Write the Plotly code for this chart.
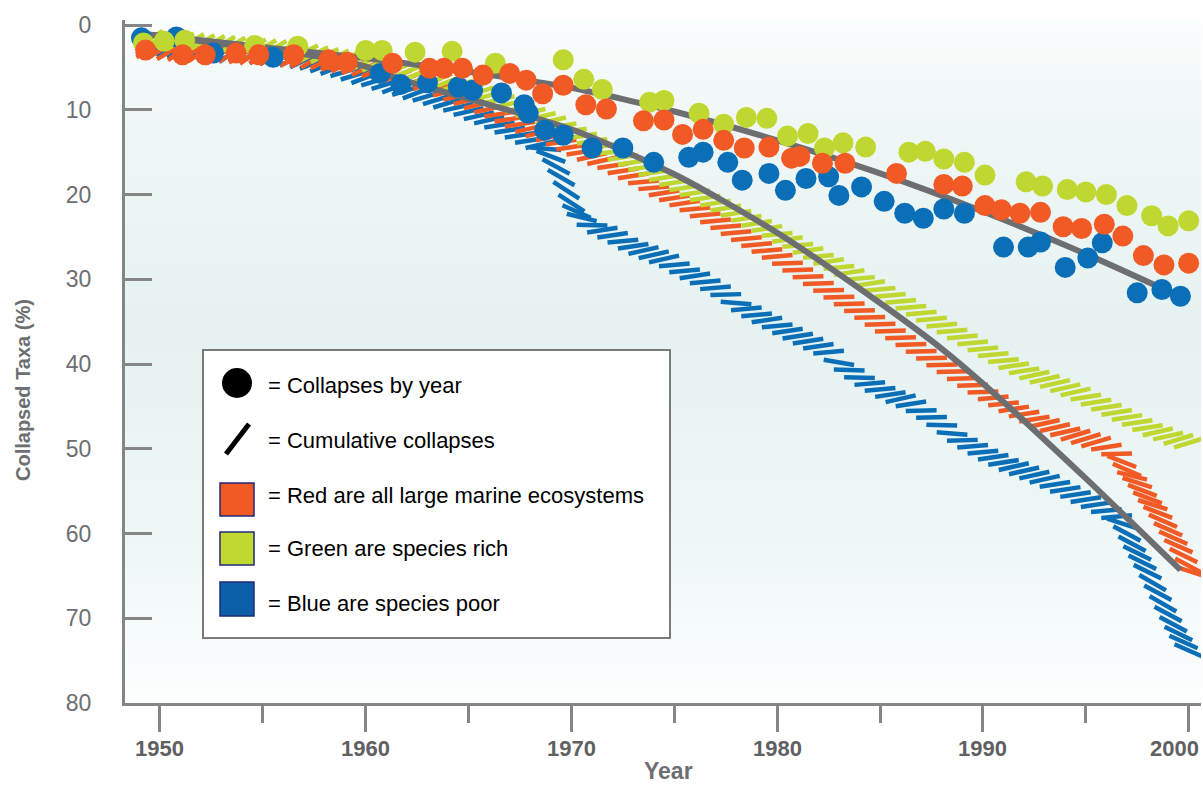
import plotly.graph_objects as go

# ---------------- DATA ----------------
# Collapses by year (dots)
green_years = [1949.2, 1950.2, 1951.2, 1954.6, 1956.7, 1960.0, 1960.8, 1962.4, 1964.2, 1966.3,
               1969.6, 1970.6, 1971.5, 1973.8, 1974.5, 1976.2, 1977.4, 1978.5, 1979.5, 1980.5,
               1981.5, 1982.3, 1983.2, 1984.3, 1986.4, 1987.2, 1988.1, 1989.1, 1990.1, 1992.1,
               1992.9, 1994.1, 1995.0, 1996.0, 1997.0, 1998.2, 1999.0, 2000.0]
green_vals = [2.1, 1.9, 1.8, 2.4, 2.5, 3.0, 3.0, 3.2, 3.1, 4.5,
              4.1, 6.4, 7.6, 9.1, 8.9, 10.4, 11.7, 10.9, 11.0, 13.1,
              12.8, 14.5, 13.9, 14.4, 15.0, 14.9, 15.8, 16.2, 17.7, 18.5,
              19.0, 19.4, 19.7, 20.0, 21.3, 22.5, 23.7, 23.1]

red_years = [1949.3, 1951.1, 1952.2, 1953.7, 1954.8, 1956.5, 1958.2, 1959.1, 1961.3, 1963.1,
             1963.8, 1964.7, 1965.7, 1967.0, 1967.8, 1968.6, 1969.6, 1970.7, 1971.7, 1973.5,
             1974.5, 1975.4, 1976.4, 1977.4, 1978.4, 1979.6, 1980.7, 1981.1, 1982.2, 1983.3,
             1985.8, 1988.1, 1989.0, 1990.1, 1990.9, 1991.8, 1992.8, 1993.9, 1994.8, 1995.9,
             1996.8, 1997.8, 1998.8, 2000.0]
red_vals = [2.95, 3.5, 3.5, 3.3, 3.5, 3.5, 4.1, 4.4, 4.5, 5.1,
            5.1, 5.1, 5.9, 5.7, 6.5, 8.1, 7.1, 9.4, 9.9, 11.3,
            11.2, 12.9, 12.3, 13.6, 14.5, 14.4, 15.7, 15.5, 16.3, 16.3,
            17.5, 18.8, 19.0, 21.3, 21.8, 22.2, 22.1, 23.8, 24.0, 23.5,
            24.9, 27.2, 28.3, 28.1]

blue_years = [1949.1, 1950.8, 1952.6, 1955.5, 1960.7, 1961.7, 1963.0, 1964.5, 1965.2, 1966.6,
              1967.7, 1967.9, 1968.7, 1969.6, 1971.0, 1972.5, 1974.0, 1975.7, 1976.4, 1977.6,
              1978.3, 1979.6, 1980.4, 1981.4, 1982.5, 1983.0, 1984.1, 1985.2, 1986.2, 1987.1,
              1988.1, 1989.1, 1991.0, 1992.2, 1992.8, 1994.0, 1995.1, 1995.8, 1997.5, 1998.7,
              1999.6]
blue_vals = [1.5, 1.4, 3.3, 3.8, 5.7, 7.0, 6.8, 7.3, 7.7, 8.0,
             9.4, 10.4, 12.4, 13.0, 14.5, 14.5, 16.2, 15.6, 15.0, 16.2,
             18.3, 17.5, 19.5, 18.1, 17.9, 20.1, 19.1, 20.8, 22.2, 22.8,
             21.7, 22.2, 26.2, 26.2, 25.6, 28.6, 27.5, 25.7, 31.6, 31.2,
             32.0]

# Trend of collapses by year (upper gray line)
trend_years = [1949, 1955, 1960, 1965, 1970, 1975, 1980, 1985, 1990, 1995, 2000]
trend_vals = [1.0, 2.6, 3.9, 5.5, 7.4, 10.2, 13.6, 17.5, 22.0, 27.0, 32.5]

# Cumulative collapses, all taxa (lower gray line)
cum_years = [1949, 1955, 1958, 1960, 1962, 1965, 1970, 1975, 1980, 1985, 1988, 1990, 1995, 1999.6]
cum_vals = [1.0, 2.8, 3.8, 4.9, 6.6, 8.7, 12.3, 17.6, 24.5, 32.8, 38.2, 42.3, 53.5, 64.3]

# Cumulative collapses per group (hatched bands)
green_cum_years = [1949.0, 1949.5, 1950.0, 1950.5, 1951.0, 1951.5, 1952.0, 1952.5, 1953.0, 1953.5,
                   1954.0, 1954.5, 1955.0, 1955.5, 1956.0, 1956.5, 1957.0, 1957.5, 1958.0, 1958.5,
                   1959.0, 1959.5, 1960.0, 1960.5, 1961.0, 1961.5, 1962.0, 1962.5, 1963.0, 1963.5,
                   1964.0, 1964.5, 1965.0, 1965.5, 1966.0, 1966.5, 1967.0, 1967.5, 1968.0, 1968.5,
                   1969.0, 1969.5, 1970.0, 1970.5, 1971.0, 1971.5, 1972.0, 1972.5, 1973.0, 1973.5,
                   1974.0, 1974.5, 1975.0, 1975.5, 1976.0, 1976.5, 1977.0, 1977.5, 1978.0, 1978.5,
                   1979.0, 1979.5, 1980.0, 1980.5, 1981.0, 1981.5, 1982.0, 1982.5, 1983.0, 1983.5,
                   1984.0, 1984.5, 1985.0, 1985.5, 1986.0, 1986.5, 1987.0, 1987.5, 1988.0, 1988.5,
                   1989.0, 1989.5, 1990.0, 1990.5, 1991.0, 1991.5, 1992.0, 1992.5, 1993.0, 1993.5,
                   1994.0, 1994.5, 1995.0, 1995.5, 1996.0, 1996.5, 1997.0, 1997.5, 1998.0, 1998.5,
                   1999.0, 1999.5, 2000.0]
green_cum = [1.5, 1.6, 1.7, 1.8, 1.9, 2.0, 2.1, 2.2, 2.3, 2.4,
             2.5, 2.6, 2.7, 2.8, 2.9, 3.0, 3.2, 3.4, 3.6, 3.8,
             4.0, 4.2, 4.4, 4.6, 4.9, 5.2, 5.5, 5.8, 6.1, 6.4,
             6.7, 7.1, 7.5, 7.9, 8.3, 8.8, 9.3, 9.8, 10.3, 10.8,
             11.3, 11.9, 12.5, 13.1, 13.7, 14.3, 15.0, 15.6, 16.2, 16.8,
             17.4, 18.0, 18.6, 19.2, 19.8, 20.4, 21.0, 21.6, 22.2, 22.8,
             23.4, 24.0, 24.7, 25.3, 26.0, 26.6, 27.3, 27.9, 28.6, 29.2,
             29.9, 30.5, 31.2, 31.9, 32.6, 33.3, 34.0, 34.7, 35.4, 36.1,
             36.8, 37.5, 38.2, 38.9, 39.6, 40.2, 40.8, 41.3, 41.8, 42.3,
             42.8, 43.3, 43.9, 44.5, 45.1, 45.7, 46.3, 46.9, 47.5, 48.0,
             48.5, 48.9, 49.3]

red_cum_years = [1949.0, 1949.5, 1950.0, 1950.5, 1951.0, 1951.5, 1952.0, 1952.5, 1953.0, 1953.5,
                 1954.0, 1954.5, 1955.0, 1955.5, 1956.0, 1956.5, 1957.0, 1957.5, 1958.0, 1958.5,
                 1959.0, 1959.5, 1960.0, 1960.5, 1961.0, 1961.5, 1962.0, 1962.5, 1963.0, 1963.5,
                 1964.0, 1964.5, 1965.0, 1965.5, 1966.0, 1966.5, 1967.0, 1967.5, 1968.0, 1968.5,
                 1969.0, 1969.5, 1970.0, 1970.5, 1971.0, 1971.5, 1972.0, 1972.5, 1973.0, 1973.5,
                 1974.0, 1974.5, 1975.0, 1975.5, 1976.0, 1976.5, 1977.0, 1977.5, 1978.0, 1978.5,
                 1979.0, 1979.5, 1980.0, 1980.5, 1981.0, 1981.5, 1982.0, 1982.5, 1983.0, 1983.5,
                 1984.0, 1984.5, 1985.0, 1985.5, 1986.0, 1986.5, 1987.0, 1987.5, 1988.0, 1988.5,
                 1989.0, 1989.5, 1990.0, 1990.5, 1991.0, 1991.5, 1992.0, 1992.5, 1993.0, 1993.5,
                 1994.0, 1994.5, 1995.0, 1995.5, 1996.0, 1996.5, 1996.75, 1997.0, 1997.25, 1997.5,
                 1997.75, 1998.0, 1998.25, 1998.5, 1998.75, 1999.0, 1999.25, 1999.5, 1999.75, 2000.0,
                 2000.25]
red_cum = [2.8, 2.9, 3.0, 3.1, 3.1, 3.2, 3.2, 3.3, 3.3, 3.4,
           3.5, 3.5, 3.6, 3.7, 3.8, 3.9, 4.0, 4.1, 4.3, 4.5,
           4.7, 4.9, 5.1, 5.4, 5.7, 6.0, 6.3, 6.6, 6.9, 7.4,
           7.9, 8.4, 8.9, 9.4, 9.9, 10.5, 11.1, 11.7, 12.2, 12.7,
           13.2, 13.8, 14.4, 15.0, 15.5, 16.0, 16.6, 17.2, 17.8, 18.5,
           19.2, 19.8, 20.4, 21.0, 21.7, 22.4, 23.1, 23.8, 24.5, 25.2,
           25.9, 26.6, 27.3, 28.1, 28.9, 29.7, 30.5, 31.3, 32.1, 32.9,
           33.7, 34.5, 35.3, 36.1, 36.9, 37.7, 38.5, 39.3, 40.1, 40.9,
           41.7, 42.5, 43.3, 44.0, 44.7, 45.3, 45.9, 46.5, 47.0, 47.5,
           48.0, 48.4, 48.8, 49.2, 49.8, 50.6, 51.5, 52.5, 53.2, 54.0,
           54.9, 55.8, 56.6, 57.5, 58.5, 59.5, 60.5, 61.5, 62.6, 63.8,
           64.6]

blue_cum_years = [1949.0, 1949.5, 1950.0, 1950.5, 1951.0, 1951.5, 1952.0, 1952.5, 1953.0, 1953.5,
                  1954.0, 1954.5, 1955.0, 1955.5, 1956.0, 1956.5, 1957.0, 1957.5, 1958.0, 1958.5,
                  1959.0, 1959.5, 1960.0, 1960.5, 1961.0, 1961.5, 1962.0, 1962.5, 1963.0, 1963.5,
                  1964.0, 1964.5, 1965.0, 1965.5, 1966.0, 1966.5, 1967.0, 1967.5, 1968.0, 1968.5,
                  1968.75, 1969.0, 1969.25, 1969.5, 1969.75, 1970.0, 1970.25, 1970.5,
                  1971.0, 1971.5, 1972.0, 1972.5, 1973.0, 1973.5,
                  1974.0, 1974.5, 1975.0, 1975.5, 1976.0, 1976.5, 1977.0, 1977.5, 1978.0, 1978.5,
                  1979.0, 1979.5, 1980.0, 1980.5, 1981.0, 1981.5, 1982.0, 1982.5, 1983.0, 1983.5,
                  1984.0, 1984.5, 1985.0, 1985.5, 1986.0, 1986.5, 1987.0, 1987.5, 1988.0, 1988.5,
                  1989.0, 1989.5, 1990.0, 1990.5, 1991.0, 1991.5, 1992.0, 1992.5, 1993.0, 1993.5,
                  1994.0, 1994.5, 1995.0, 1995.5, 1996.0, 1996.5, 1996.75, 1997.0, 1997.25, 1997.5,
                  1997.75, 1998.0, 1998.25, 1998.5, 1998.75, 1999.0, 1999.25, 1999.5, 1999.75, 2000.0]
blue_cum = [2.5, 2.6, 2.7, 2.8, 2.9, 3.0, 3.1, 3.2, 3.3, 3.3,
            3.4, 3.5, 3.6, 3.7, 3.8, 4.0, 4.2, 4.5, 4.8, 5.1,
            5.5, 5.9, 6.2, 6.6, 7.0, 7.3, 7.7, 8.0, 8.4, 8.8,
            9.2, 9.7, 10.2, 10.7, 11.2, 11.8, 12.4, 13.0, 13.6, 14.1,
            14.6, 15.5, 16.7, 18.0, 19.5, 21.0, 22.0, 22.7,
            23.6, 24.2, 24.8, 25.5, 26.1, 26.6,
            27.1, 27.6, 28.3, 29.0, 29.6, 30.3, 31.0, 31.8, 32.8, 33.5,
            34.2, 34.8, 35.5, 36.1, 36.7, 37.3, 37.9, 38.6, 39.8, 40.7,
            41.6, 42.3, 43.0, 43.6, 44.1, 44.7, 45.5, 46.3, 47.2, 48.2,
            49.0, 49.7, 50.4, 51.0, 51.6, 52.1, 52.6, 53.1, 53.6, 54.2,
            54.8, 55.4, 56.0, 56.6, 57.3, 58.0, 58.8, 60.0, 61.2, 62.3,
            63.4, 64.5, 65.8, 67.0, 68.3, 69.5, 70.7, 71.8, 72.8, 73.8]

y_ticks = [0, 10, 20, 30, 40, 50, 60, 70, 80]
x_ticks = [1950, 1960, 1970, 1980, 1990, 2000]
x_minor_ticks = [1955, 1965, 1975, 1985, 1995]

legend_labels = ["= Collapses by year", "= Cumulative collapses",
                 "= Red are all large marine ecosystems", "= Green are species rich",
                 "= Blue are species poor"]

# ---------------- STYLE ----------------
ORANGE = "#f15a24"
GREEN = "#bfd730"
BLUE = "#0a6fb6"
GRAY = "#6d6e71"
AXIS = "#858585"

W, H = 1203, 785
ML, MR, MT, MB = 125, 2, 20, 82
PW, PH = W - ML - MR, H - MT - MB


def fx(px):
    return (px - ML) / PW


def fy(py):
    return (H - MB - py) / PH


fig = go.Figure()


def hatch(xs, ys, color):
    fig.add_trace(go.Scatter(
        x=xs, y=ys, mode="markers", hoverinfo="skip", showlegend=False,
        marker=dict(symbol="line-ew", size=22, angle=55, angleref="previous",
                    color=color, line=dict(color=color, width=4.5))))


hatch(blue_cum_years, blue_cum, BLUE)
hatch(red_cum_years, red_cum, ORANGE)
hatch(green_cum_years, green_cum, GREEN)

fig.add_trace(go.Scatter(x=cum_years, y=cum_vals, mode="lines", showlegend=False,
                         line=dict(color=GRAY, width=6, shape="spline", smoothing=0.7)))
fig.add_trace(go.Scatter(x=trend_years, y=trend_vals, mode="lines", showlegend=False,
                         line=dict(color=GRAY, width=6, shape="spline", smoothing=0.6)))

for xs, ys, c in [(blue_years, blue_vals, BLUE), (green_years, green_vals, GREEN),
                  (red_years, red_vals, ORANGE)]:
    fig.add_trace(go.Scatter(x=xs, y=ys, mode="markers", showlegend=False,
                             marker=dict(size=21, color=c, line=dict(width=0))))

# background gradient (plot area)
stops = [(0.0, (250, 253, 253)), (0.15, (239, 247, 246)), (0.45, (229, 242, 241)),
         (0.75, (238, 247, 246)), (1.0, (252, 254, 254))]
shapes = []
N = 60
for i in range(N):
    t = (i + 0.5) / N
    for j in range(len(stops) - 1):
        if stops[j][0] <= t <= stops[j + 1][0]:
            a = (t - stops[j][0]) / (stops[j + 1][0] - stops[j][0])
            c = tuple(round(stops[j][1][k] + a * (stops[j + 1][1][k] - stops[j][1][k])) for k in range(3))
            break
    shapes.append(dict(type="rect", xref="paper", yref="paper", x0=0, x1=1,
                       y0=1 - (i + 1) / N, y1=1 - i / N + 0.001, layer="below",
                       line=dict(width=0), fillcolor="rgb(%d,%d,%d)" % c))

# legend box
shapes.append(dict(type="rect", xref="paper", yref="paper", x0=fx(203), x1=fx(670),
                   y0=fy(638), y1=fy(350), fillcolor="white", line=dict(color="#7a7a7a", width=2),
                   layer="above"))
shapes.append(dict(type="circle", xref="paper", yref="paper", x0=fx(222), x1=fx(252),
                   y0=fy(398), y1=fy(368), fillcolor="black", line=dict(width=0), layer="above"))
shapes.append(dict(type="line", xref="paper", yref="paper", x0=fx(226), x1=fx(249),
                   y0=fy(454), y1=fy(424), line=dict(color="black", width=5), layer="above"))
for (y0, y1, c) in [(483, 516, ORANGE), (532, 565, "#c0d82f"), (582, 616, "#0b5fa8")]:
    shapes.append(dict(type="rect", xref="paper", yref="paper", x0=fx(220), x1=fx(254),
                       y0=fy(y1), y1=fy(y0), fillcolor=c, line=dict(color="#1f2a7a", width=1.5),
                       layer="above"))

annotations = []
for lab, yc in zip(legend_labels, [385, 440, 495, 548, 603]):
    annotations.append(dict(xref="paper", yref="paper", x=fx(266), y=fy(yc), text=lab,
                            showarrow=False, xanchor="left", yanchor="middle",
                            font=dict(family="Liberation Sans, Arial", size=22, color="black")))

# x tick labels (placed at the axis' own positions; last one kept inside the page)
for v in x_ticks:
    last = v == x_ticks[-1]
    annotations.append(dict(xref="x", yref="paper", x=2000.6 if last else v, y=fy(748),
                            text="<b>%d</b>" % v, showarrow=False,
                            xanchor="right" if last else "center", yanchor="middle",
                            font=dict(family="Liberation Sans Narrow, Arial Narrow, Liberation Sans",
                                      size=22, color="#5f6062")))

annotations.append(dict(xref="paper", yref="paper", x=fx(23), y=fy(390), text="<b>Collapsed Taxa (%)</b>",
                        textangle=-90, showarrow=False, xanchor="center", yanchor="middle",
                        font=dict(family="Liberation Sans, Arial", size=20, color="#6d6e71")))
annotations.append(dict(xref="paper", yref="paper", x=fx(668), y=fy(771), text="<b>Year</b>",
                        showarrow=False, xanchor="center", yanchor="middle",
                        font=dict(family="Liberation Sans Narrow, Arial Narrow, Liberation Sans",
                                  size=23, color="#6d6e71")))

fig.update_layout(
    width=W, height=H, margin=dict(l=ML, r=MR, t=MT, b=MB),
    paper_bgcolor="white", plot_bgcolor="white",
    shapes=shapes, annotations=annotations, showlegend=False,
    xaxis=dict(range=[1948.3, 2000.6], tickvals=x_ticks, showticklabels=False,
               ticks="outside", ticklen=26, tickwidth=3, tickcolor=AXIS,
               showline=True, linecolor=AXIS, linewidth=3, showgrid=False, zeroline=False,
               minor=dict(tickvals=x_minor_ticks, ticks="outside", ticklen=17,
                          tickwidth=3, tickcolor=AXIS, showgrid=False)),
    yaxis=dict(range=[80.0, -0.6], tickvals=y_ticks, ticks="inside", ticklen=27, tickwidth=3,
               tickcolor=AXIS, showline=True, linecolor=AXIS, linewidth=3, showgrid=False,
               zeroline=False, ticklabelstandoff=26,
               tickfont=dict(family="Liberation Sans, Arial", size=23, color="#6d6e71")),
)

fig.write_html("out.html", config={"displayModeBar": False},
               post_script="document.body.style.margin='0';")
